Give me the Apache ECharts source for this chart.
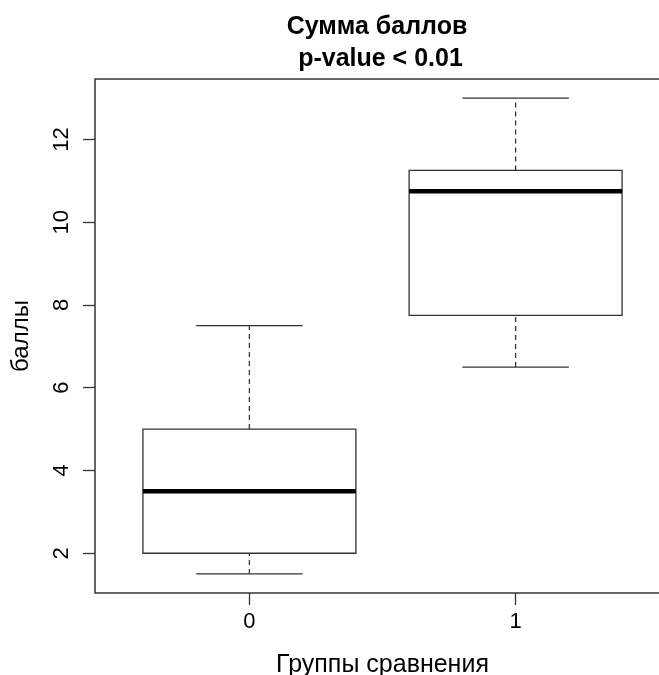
<!DOCTYPE html>
<html>
<head>
<meta charset="utf-8">
<script src="https://cdn.jsdelivr.net/npm/echarts@6/dist/echarts.min.js"></script>
<style>
  html, body { margin: 0; padding: 0; background: #fff; overflow: hidden; }
  #main { width: 659px; height: 675px; }
</style>
</head>
<body>
<div id="main"></div>
<script>
// groups and their five-number summaries
const groups = ["0", "1"];
const lowWhisker = [1.5, 6.5];
const q1 = [2, 7.75];
const medians = [3.5, 10.75];
const q3 = [5, 11.25];
const highWhisker = [7.5, 13];
const yTicks = [2, 4, 6, 8, 10, 12];

const boxData = groups.map(function (g, i) {
  return [i + 1, lowWhisker[i], q1[i], medians[i], q3[i], highWhisker[i]];
});

const lineColor = "#333";
const font = "Liberation Sans, Arial, sans-serif";

var myChart = echarts.init(document.getElementById("main"));

function renderBox(params, api) {
  const x = api.value(0);
  const p = function (dx, v) {
    return api.coord([x + dx, v]);
  };
  const lo = api.value(1), a = api.value(2), m = api.value(3), b = api.value(4), hi = api.value(5);
  const tl = p(-0.4, b), br = p(0.4, a);
  const dashed = { stroke: lineColor, lineWidth: 1.3, lineDash: [5, 4] };
  const solid = { stroke: lineColor, lineWidth: 1.3 };
  return {
    type: "group",
    children: [
      { type: "line", shape: { x1: p(0, b)[0], y1: p(0, b)[1], x2: p(0, hi)[0], y2: p(0, hi)[1] }, style: dashed },
      { type: "line", shape: { x1: p(0, lo)[0], y1: p(0, lo)[1], x2: p(0, a)[0], y2: p(0, a)[1] }, style: dashed },
      { type: "line", shape: { x1: p(-0.2, hi)[0], y1: p(-0.2, hi)[1], x2: p(0.2, hi)[0], y2: p(0.2, hi)[1] }, style: solid },
      { type: "line", shape: { x1: p(-0.2, lo)[0], y1: p(-0.2, lo)[1], x2: p(0.2, lo)[0], y2: p(0.2, lo)[1] }, style: solid },
      { type: "rect", shape: { x: tl[0], y: tl[1], width: br[0] - tl[0], height: br[1] - tl[1] }, style: { fill: "#fff", stroke: lineColor, lineWidth: 1.3 } },
      { type: "line", shape: { x1: p(-0.4, m)[0], y1: p(-0.4, m)[1], x2: p(0.4, m)[0], y2: p(0.4, m)[1] }, style: { stroke: "#000", lineWidth: 4.5 } }
    ]
  };
}

var option = {
  animation: false,
  title: {
    text: "Сумма баллов\n p-value < 0.01",
    left: 372,
    top: 6,
    textAlign: "center",
    textStyle: { fontFamily: font, fontSize: 25, fontWeight: "bold", color: "#000", lineHeight: 32 }
  },
  grid: {
    left: 95,
    top: 79,
    right: -11,
    bottom: 82,
    outerBoundsMode: "none",
    containLabel: false,
    show: true,
    borderColor: lineColor,
    borderWidth: 1.5,
    backgroundColor: "#fff"
  },
  xAxis: {
    type: "value",
    min: 0.42,
    max: 2.58,
    name: "Группы сравнения",
    nameLocation: "middle",
    nameGap: 60,
    nameTextStyle: { fontFamily: font, fontSize: 25, color: "#000" },
    axisLine: { show: false },
    splitLine: { show: false },
    axisTick: { show: true, length: 12, customValues: [1, 2], lineStyle: { color: lineColor, width: 1.3 } },
    axisLabel: {
      customValues: [1, 2],
      margin: 18,
      fontFamily: font,
      fontSize: 22,
      color: "#000",
      formatter: function (v) { return groups[Math.round(v) - 1]; }
    }
  },
  yAxis: {
    type: "value",
    min: 1.04,
    max: 13.46,
    name: "баллы",
    nameLocation: "middle",
    nameRotate: 90,
    nameGap: 62,
    nameTextStyle: { fontFamily: font, fontSize: 24, color: "#000" },
    axisLine: { show: false },
    splitLine: { show: false },
    axisTick: { show: true, length: 12, customValues: yTicks, lineStyle: { color: lineColor, width: 1.3 } },
    axisLabel: {
      customValues: yTicks,
      rotate: 90,
      margin: 22,
      fontFamily: font,
      fontSize: 22,
      color: "#000"
    }
  },
  series: [
    {
      type: "custom",
      renderItem: renderBox,
      data: boxData,
      encode: { x: 0, y: [1, 2, 3, 4, 5] },
      clip: false
    }
  ]
};

myChart.setOption(option);
</script>
</body>
</html>
